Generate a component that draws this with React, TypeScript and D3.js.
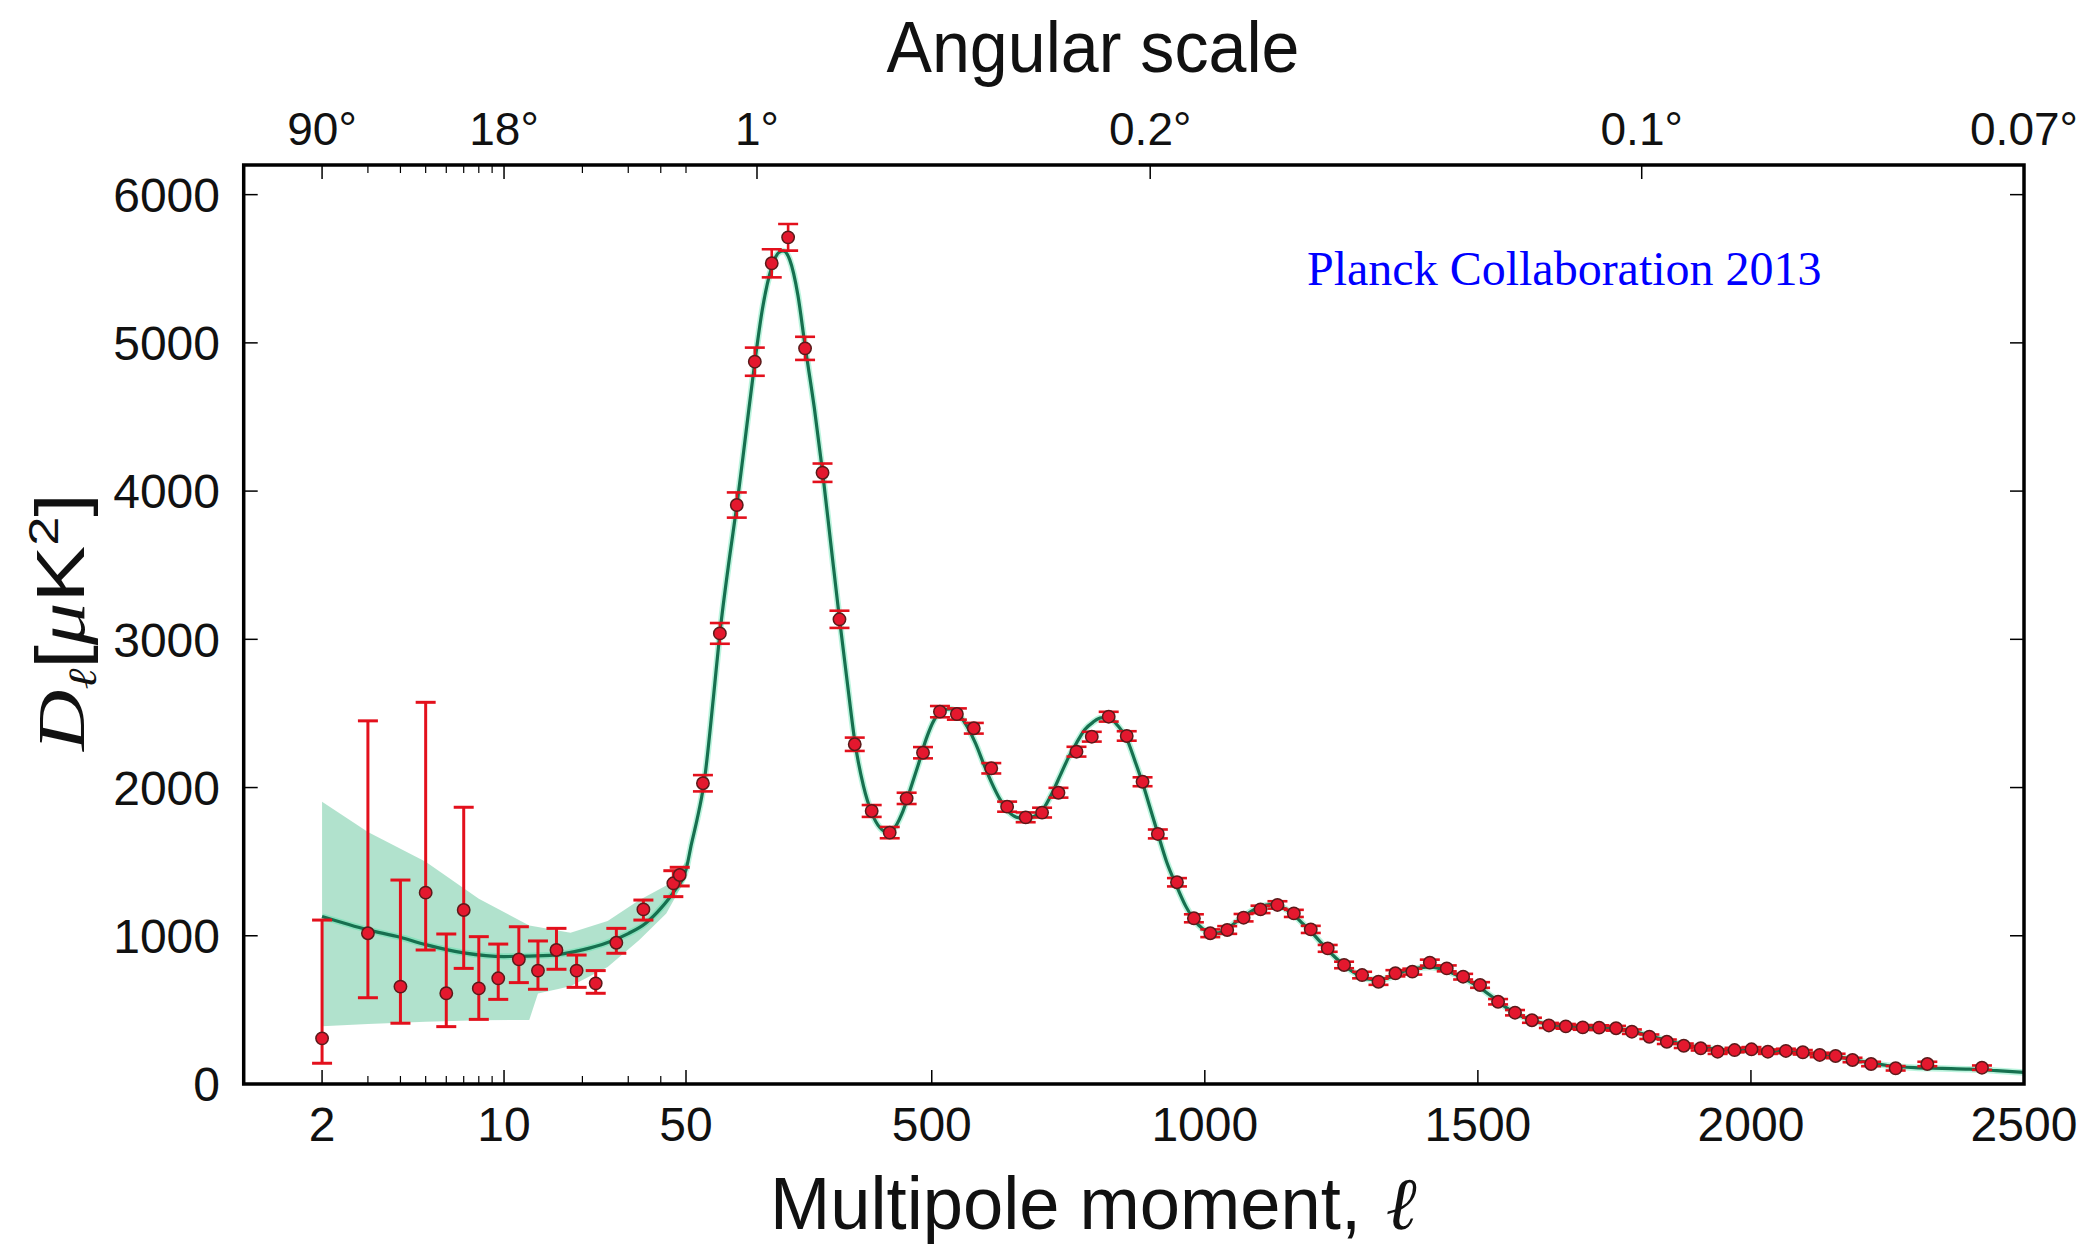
import React from 'react';
import * as d3 from 'd3';

const W = 2088;
const H = 1246;
const FRAME = { left: 243.7, right: 2024, top: 165, bottom: 1084, split: 686 };

// ---- low-ell data points (individual / coarse bins)
const lowEll = [2, 3, 4, 5, 6, 7, 8, 9.5, 11.4, 13.5, 15.9, 19, 22.5, 27, 34.3, 44.7, 47.3];
const lowD = [308, 1017, 657, 1291, 612, 1174, 645, 713, 841, 765, 904, 765, 679, 953, 1178, 1354, 1410];
const lowHi = [1106, 2450, 1376, 2575, 1012, 1867, 994, 944, 1061, 965, 1050, 870, 765, 1050, 1241, 1439, 1462];
const lowLo = [140, 582, 410, 904, 387, 780, 436, 571, 684, 639, 774, 652, 612, 882, 1106, 1264, 1336];

// ---- high-ell binned points
const hiEll = [81, 112, 143, 176, 207, 237, 268, 300, 331, 359, 390, 423, 454, 484, 515, 546, 577, 609, 638, 672,
  702, 732, 765, 793, 824, 857, 886, 914, 949, 980, 1010, 1041, 1071, 1102, 1133, 1163, 1194, 1225, 1255, 1288,
  1318, 1349, 1380, 1412, 1443, 1473, 1504, 1537, 1568, 1599, 1630, 1661, 1692, 1722, 1753, 1782, 1814, 1846,
  1877, 1908, 1939, 1970, 2001, 2031, 2064, 2095, 2126, 2155, 2186, 2220, 2265, 2323, 2423];
const hiD = [2029, 3040, 3906, 4873, 5537, 5712, 4963, 4124, 3135, 2292, 1842, 1696, 1927, 2235, 2512, 2496, 2400,
  2130, 1871, 1799, 1831, 1965, 2242, 2343, 2478, 2348, 2039, 1687, 1361, 1118, 1017, 1039, 1122, 1178, 1208,
  1151, 1043, 915, 803, 735, 690, 747, 758, 819, 780, 724, 668, 555, 481, 430, 395, 389, 382, 380, 376, 353, 319,
  285, 258, 241, 218, 229, 234, 218, 223, 214, 196, 189, 162, 135, 106, 135, 110];
const hiErr = [55, 70, 85, 95, 95, 90, 78, 62, 58, 45, 40, 38, 38, 38, 38, 38, 36, 35, 34, 33, 33, 33, 33, 33, 33,
  32, 30, 30, 28, 27, 26, 26, 25, 25, 25, 24, 24, 23, 22, 22, 21, 21, 20, 20, 20, 19, 19, 18, 18, 17, 17, 16, 16,
  16, 16, 15, 15, 15, 15, 15, 15, 15, 15, 15, 15, 15, 15, 15, 15, 15, 15, 15, 15];

// ---- best-fit theory curve
const thEll = [2, 3, 4, 5, 7, 10, 15, 20, 25, 30, 35, 40, 45, 50, 60, 70, 83, 100, 112, 130, 143, 160, 176, 190,
  207, 220, 228, 240, 255, 268, 285, 300, 315, 331, 345, 360, 375, 390, 405, 418, 430, 445, 460, 475, 490, 505,
  520, 535, 550, 565, 580, 595, 610, 625, 640, 655, 672, 690, 705, 720, 735, 750, 765, 780, 795, 810, 825, 840,
  857, 872, 886, 900, 914, 930, 949, 965, 980, 995, 1010, 1025, 1041, 1056, 1071, 1087, 1102, 1118, 1133, 1148,
  1163, 1180, 1194, 1210, 1225, 1240, 1255, 1272, 1288, 1305, 1318, 1335, 1349, 1365, 1380, 1396, 1412, 1428,
  1443, 1458, 1473, 1490, 1504, 1520, 1537, 1552, 1568, 1584, 1600, 1630, 1660, 1700, 1750, 1780, 1810, 1850,
  1880, 1910, 1950, 2000, 2050, 2100, 2150, 2200, 2250, 2300, 2350, 2400, 2450, 2500];
const thD = [1130, 1040, 990, 940, 885, 860, 868, 905, 955, 1015, 1085, 1185, 1300, 1445, 1620, 1780, 2030, 2600,
  3040, 3560, 3900, 4400, 4870, 5230, 5510, 5610, 5620, 5560, 5320, 4980, 4560, 4130, 3650, 3140, 2720, 2290,
  2010, 1830, 1730, 1700, 1720, 1820, 1980, 2150, 2330, 2460, 2520, 2530, 2490, 2410, 2300, 2160, 2030, 1920,
  1840, 1800, 1790, 1810, 1860, 1960, 2080, 2200, 2300, 2390, 2440, 2470, 2470, 2420, 2330, 2180, 2030, 1860,
  1690, 1500, 1330, 1200, 1110, 1050, 1020, 1020, 1045, 1090, 1130, 1170, 1195, 1210, 1205, 1180, 1140, 1080,
  1030, 965, 905, 850, 800, 755, 720, 705, 705, 715, 735, 760, 775, 785, 790, 780, 765, 740, 715, 680, 650, 605,
  560, 515, 480, 450, 430, 400, 390, 383, 375, 360, 330, 290, 265, 245, 230, 225, 218, 207, 190, 155, 125, 110,
  105, 100, 90, 78];

// ---- cosmic variance band
const bandEll = [2, 3, 5, 8, 12.5, 13.5, 18, 25, 33, 42, 50];
const bandHi = [1905, 1700, 1500, 1250, 1070, 1060, 1020, 1100, 1240, 1340, 1500];
const bandLo = [390, 405, 420, 430, 432, 610, 660, 790, 970, 1150, 1390];

// ---- axis ticks
const bottomMajor = [2, 10, 50, 500, 1000, 1500, 2000, 2500];
const bottomMinor = [3, 4, 5, 6, 7, 8, 9, 20, 30, 40];
const topMajor = [2, 10, 180, 900, 1800, 2500];
const topLabels = ['90°', '18°', '1°', '0.2°', '0.1°', '0.07°'];
const topMinor = [3, 4, 5, 6, 7, 8, 9, 20, 30, 40, 50];
const yTicks = [0, 1000, 2000, 3000, 4000, 5000, 6000];

const xLog = d3.scaleLog().domain([1, 50]).range([FRAME.left, FRAME.split]);
const xLin = d3.scaleLinear().domain([50, 2500]).range([FRAME.split, FRAME.right]);
const x = (l: number) => (l <= 50 ? xLog(l) : xLin(l));
const y = d3.scaleLinear().domain([0, 6200]).range([FRAME.bottom, FRAME.top]);

const ERR = '#e3101c';
const MFILL = '#e4182e';
const MEDGE = '#5a1a1a';
const TICK_FONT = '"Liberation Sans", Arial, sans-serif';

export default function App() {
  const theory = thEll.map((l, i) => [l, thD[i]] as [number, number]);
  const line = d3.line<[number, number]>().x((d) => x(d[0])).y((d) => y(d[1])).curve(d3.curveMonotoneX);
  const band = bandEll.map((l, i) => ({ l, hi: bandHi[i], lo: bandLo[i] }));
  const area = d3.area<{ l: number; hi: number; lo: number }>()
    .x((d) => x(d.l)).y0((d) => y(d.lo)).y1((d) => y(d.hi)).curve(d3.curveLinear);

  const points = [
    ...lowEll.map((l, i) => ({ l, d: lowD[i], hi: lowHi[i], lo: lowLo[i], low: true })),
    ...hiEll.map((l, i) => ({ l, d: hiD[i], hi: hiD[i] + hiErr[i], lo: hiD[i] - hiErr[i], low: false })),
  ];
  const capW = 10;
  const majLen = 14;
  const minLen = 8;

  return (
    <svg width={W} height={H} style={{ position: 'absolute', left: 0, top: 0, background: '#fff' }}>
      <defs>
        <clipPath id="plotclip">
          <rect x={FRAME.left} y={FRAME.top} width={FRAME.right - FRAME.left} height={FRAME.bottom - FRAME.top} />
        </clipPath>
      </defs>
      <rect x={0} y={0} width={W} height={H} fill="#fff" />

      <g clipPath="url(#plotclip)">
        <path d={area(band) || ''} fill="#a3ddc4" opacity={0.85} />
        <path d={line(theory) || ''} fill="none" stroke="#3fe0a0" strokeWidth={6.5} opacity={0.35} />
        <path d={line(theory) || ''} fill="none" stroke="#16704f" strokeWidth={3.2} />
        {points.map((p, i) => (
          <g key={'e' + i} stroke={ERR} strokeWidth={p.low ? 3 : 2.6}>
            <line x1={x(p.l)} x2={x(p.l)} y1={y(p.hi)} y2={y(p.lo)} />
            <line x1={x(p.l) - capW} x2={x(p.l) + capW} y1={y(p.hi)} y2={y(p.hi)} />
            <line x1={x(p.l) - capW} x2={x(p.l) + capW} y1={y(p.lo)} y2={y(p.lo)} />
          </g>
        ))}
        {points.map((p, i) => (
          <circle key={'m' + i} cx={x(p.l)} cy={y(p.d)} r={6.2} fill={MFILL} stroke={MEDGE} strokeWidth={1.5} />
        ))}
      </g>

      {/* frame */}
      <rect x={FRAME.left} y={FRAME.top} width={FRAME.right - FRAME.left} height={FRAME.bottom - FRAME.top}
        fill="none" stroke="#000" strokeWidth={3.5} />

      {/* bottom ticks */}
      {bottomMajor.map((l) => (
        <g key={'bM' + l}>
          <line x1={x(l)} x2={x(l)} y1={FRAME.bottom} y2={FRAME.bottom - majLen} stroke="#000" strokeWidth={1.5} />
          <text x={x(l)} y={1141} textAnchor="middle" fontFamily={TICK_FONT} fontSize={48} fill="#111">{l}</text>
        </g>
      ))}
      {bottomMinor.map((l) => (
        <line key={'bm' + l} x1={x(l)} x2={x(l)} y1={FRAME.bottom} y2={FRAME.bottom - minLen} stroke="#000" strokeWidth={1.2} />
      ))}

      {/* top ticks */}
      {topMajor.map((l, i) => (
        <g key={'tM' + l}>
          <line x1={x(l)} x2={x(l)} y1={FRAME.top} y2={FRAME.top + majLen} stroke="#000" strokeWidth={1.5} />
          <text x={x(l)} y={145} textAnchor="middle" fontFamily={TICK_FONT} fontSize={46} fill="#111">{topLabels[i]}</text>
        </g>
      ))}
      {topMinor.map((l) => (
        <line key={'tm' + l} x1={x(l)} x2={x(l)} y1={FRAME.top} y2={FRAME.top + minLen} stroke="#000" strokeWidth={1.2} />
      ))}

      {/* y ticks */}
      {yTicks.map((v) => (
        <g key={'y' + v}>
          <line x1={FRAME.left} x2={FRAME.left + majLen} y1={y(v)} y2={y(v)} stroke="#000" strokeWidth={1.5} />
          <line x1={FRAME.right} x2={FRAME.right - majLen} y1={y(v)} y2={y(v)} stroke="#000" strokeWidth={1.5} />
          <text x={220} y={y(v)} dy="0.36em" textAnchor="end" fontFamily={TICK_FONT} fontSize={48} fill="#111">{v}</text>
        </g>
      ))}

      {/* titles */}
      <text x={1093} y={72} textAnchor="middle" fontFamily={TICK_FONT} fontSize={72} fill="#111"
        textLength={413} lengthAdjust="spacingAndGlyphs">Angular scale</text>
      <text x={770} y={1229} textAnchor="start" fontFamily={TICK_FONT} fontSize={74} fill="#111"
        textLength={591} lengthAdjust="spacingAndGlyphs">Multipole moment,</text>
      <text x={1386} y={1229} textAnchor="start" fontFamily='"DejaVu Serif", serif' fontStyle="italic"
        fontSize={74} fill="#111">ℓ</text>
      <text transform="translate(84,622) rotate(-90)" textAnchor="middle" fontSize={68} fill="#111"
        fontFamily='"Liberation Sans", sans-serif' textLength={258} lengthAdjust="spacingAndGlyphs">
        <tspan fontFamily='"Liberation Serif", serif' fontStyle="italic">D</tspan>
        <tspan fontFamily='"DejaVu Serif", serif' fontStyle="italic" fontSize={40} dy={12}>ℓ</tspan>
        <tspan dy={-12}>[</tspan>
        <tspan fontFamily='"Liberation Serif", serif' fontStyle="italic">μ</tspan>
        <tspan>K</tspan>
        <tspan fontSize={42} dy={-26}>2</tspan>
        <tspan dy={26}>]</tspan>
      </text>

      <text x={1307} y={285} fontFamily='"Liberation Serif", "Times New Roman", serif' fontSize={48} fill="#0000ff">
        Planck Collaboration 2013
      </text>
    </svg>
  );
}
